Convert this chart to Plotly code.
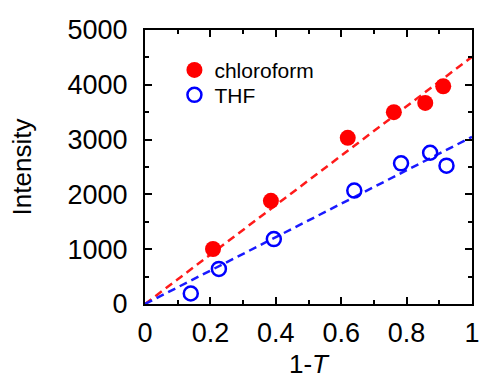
import plotly.graph_objects as go

# data
chloro_x = [0.208, 0.385, 0.62, 0.761, 0.857, 0.912]
chloro_y = [1004, 1882, 3033, 3500, 3670, 3973]
thf_x = [0.14, 0.226, 0.394, 0.64, 0.783, 0.872, 0.922]
thf_y = [191, 640, 1185, 2070, 2567, 2760, 2524]
fit_x = [0, 1]
fit_chloro = [0, 4510]
fit_thf = [0, 3050]

FONT = "Liberation Sans, Arial, sans-serif"

fig = go.Figure()
fig.add_trace(go.Scatter(x=fit_x, y=fit_chloro, mode="lines", showlegend=False,
                         line=dict(color="#ff1a1a", width=2.5, dash="8px,5px")))
fig.add_trace(go.Scatter(x=fit_x, y=fit_thf, mode="lines", showlegend=False,
                         line=dict(color="#1a1aff", width=2.5, dash="8px,5px")))
fig.add_trace(go.Scatter(x=chloro_x, y=chloro_y, mode="markers", name="chloroform",
                         marker=dict(color="#ff0000", size=16, symbol="circle"),
                         legend="legend"))
fig.add_trace(go.Scatter(x=thf_x, y=thf_y, mode="markers", name="THF",
                         marker=dict(color="#0000ff", size=14, symbol="circle-open",
                                     line=dict(width=2.5, color="#0000ff")),
                         legend="legend2"))

axis_common = dict(
    showgrid=False, zeroline=False, showline=True, linecolor="black", linewidth=2,
    mirror="ticks", ticks="inside", ticklen=7, tickwidth=2, tickcolor="black",
    tickfont=dict(family=FONT, size=27, color="black"), automargin=False,
    ticklabeloverflow="allow",
)

fig.update_layout(
    width=481, height=379,
    margin=dict(l=145, r=9, t=30, b=75),
    plot_bgcolor="white", paper_bgcolor="white",
    xaxis=dict(range=[0, 1], tickvals=[0, 0.2, 0.4, 0.6, 0.8, 1],
               ticktext=["0", "0.2", "0.4", "0.6", "0.8", "1"],
               ticklabelstandoff=4,
               minor=dict(dtick=0.1, ticks="inside", ticklen=4, tickwidth=2, tickcolor="black"),
               title=dict(text="1-<i>T</i>", font=dict(family=FONT, size=26, color="black"), standoff=16),
               **axis_common),
    yaxis=dict(range=[0, 5000], tickvals=[0, 1000, 2000, 3000, 4000, 5000],
               ticklabelstandoff=10,
               minor=dict(dtick=500, ticks="inside", ticklen=4, tickwidth=2, tickcolor="black"),
               title=dict(text="Intensity", font=dict(family=FONT, size=26, color="black"), standoff=28),
               **axis_common),
    legend=dict(x=0.09, y=0.853, xanchor="left", yanchor="middle", bgcolor="rgba(0,0,0,0)",
                font=dict(family=FONT, size=21, color="black")),
    legend2=dict(x=0.09, y=0.762, xanchor="left", yanchor="middle", bgcolor="rgba(0,0,0,0)",
                 font=dict(family=FONT, size=21, color="black")),
)

fig.write_html("out.html")
